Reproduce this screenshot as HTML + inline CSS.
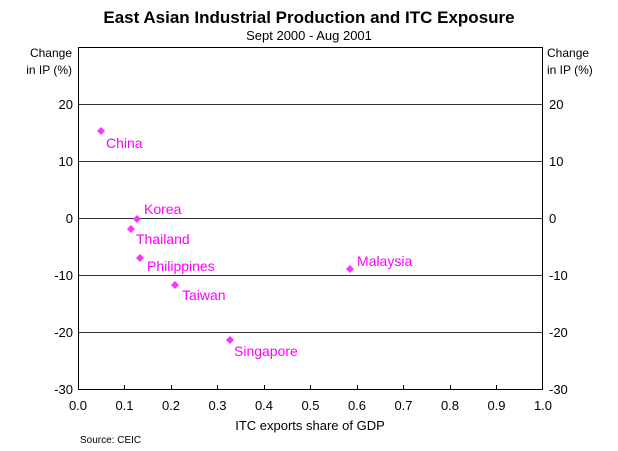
<!DOCTYPE html>
<html><head><style>body{margin:0;background:#fff}svg{display:block}</style></head><body>
<svg width="618" height="451" xmlns="http://www.w3.org/2000/svg" font-family="Liberation Sans, Arial, sans-serif">
<rect width="618" height="451" fill="#fff"/>
<text x="309" y="23" text-anchor="middle" font-size="17" font-weight="bold">East Asian Industrial Production and ITC Exposure</text>
<text x="309" y="40" text-anchor="middle" font-size="13">Sept 2000 - Aug 2001</text>
<text x="72" y="57" text-anchor="end" font-size="12">Change</text>
<text x="72" y="74" text-anchor="end" font-size="12">in IP (%)</text>
<text x="547" y="57" font-size="12">Change</text>
<text x="547" y="74" font-size="12">in IP (%)</text>
<g stroke="#333" stroke-width="1">
<line x1="78" y1="104.5" x2="543" y2="104.5"/>
<line x1="78" y1="161.5" x2="543" y2="161.5"/>
<line x1="78" y1="218.5" x2="543" y2="218.5"/>
<line x1="78" y1="275.5" x2="543" y2="275.5"/>
<line x1="78" y1="332.5" x2="543" y2="332.5"/>
</g>
<rect x="78.5" y="47.5" width="464" height="342" fill="none" stroke="#000" stroke-width="1"/>
<g stroke="#000">
<line x1="124.5" y1="389" x2="124.5" y2="385"/><line x1="171.5" y1="389" x2="171.5" y2="385"/>
<line x1="217.5" y1="389" x2="217.5" y2="385"/><line x1="264.5" y1="389" x2="264.5" y2="385"/>
<line x1="310.5" y1="389" x2="310.5" y2="385"/><line x1="357.5" y1="389" x2="357.5" y2="385"/>
<line x1="403.5" y1="389" x2="403.5" y2="385"/><line x1="450.5" y1="389" x2="450.5" y2="385"/>
<line x1="496.5" y1="389" x2="496.5" y2="385"/>
</g>
<g font-size="13" text-anchor="end">
<text x="73" y="109">20</text><text x="73" y="166">10</text><text x="73" y="223">0</text>
<text x="73" y="280">-10</text><text x="73" y="337">-20</text><text x="73" y="394">-30</text>
</g>
<g font-size="13" text-anchor="start">
<text x="549" y="109">20</text><text x="549" y="166">10</text><text x="549" y="223">0</text>
<text x="549" y="280">-10</text><text x="549" y="337">-20</text><text x="549" y="394">-30</text>
</g>
<g font-size="13" text-anchor="middle">
<text x="78" y="410">0.0</text><text x="124.5" y="410">0.1</text><text x="171" y="410">0.2</text>
<text x="217.5" y="410">0.3</text><text x="264" y="410">0.4</text><text x="310.5" y="410">0.5</text>
<text x="357" y="410">0.6</text><text x="403.5" y="410">0.7</text><text x="450" y="410">0.8</text>
<text x="496.5" y="410">0.9</text><text x="543" y="410">1.0</text>
</g>
<text x="310" y="430" text-anchor="middle" font-size="13">ITC exports share of GDP</text>
<text x="80" y="443" font-size="10">Source: CEIC</text>
<g fill="#ff33ff">
<path d="M101 127l4 4-4 4-4-4z"/>
<path d="M137 215l4 4-4 4-4-4z"/>
<path d="M131 225l4 4-4 4-4-4z"/>
<path d="M140 254l4 4-4 4-4-4z"/>
<path d="M175 281l4 4-4 4-4-4z"/>
<path d="M230 336l4 4-4 4-4-4z"/>
<path d="M350 265l4 4-4 4-4-4z"/>
</g>
<g fill="#ff00ff" font-size="14">
<text x="106" y="148">China</text>
<text x="144" y="214">Korea</text>
<text x="136" y="244">Thailand</text>
<text x="147" y="271">Philippines</text>
<text x="182" y="300">Taiwan</text>
<text x="234" y="356">Singapore</text>
<text x="357" y="266">Malaysia</text>
</g>
</svg>
</body></html>
